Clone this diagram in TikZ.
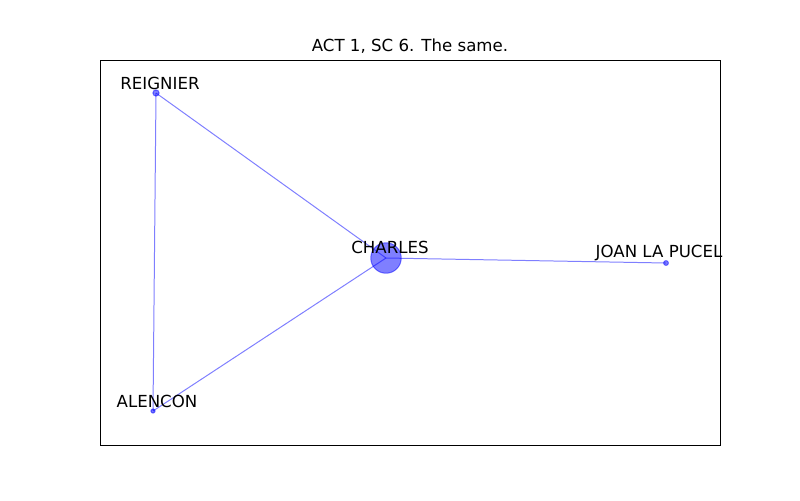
\documentclass[tikz,border=0pt]{standalone}
\usepackage{fontspec}
\setmainfont{DejaVu Sans}
\usetikzlibrary{backgrounds}
\definecolor{netblue}{rgb}{0,0,1}

\tikzset{
    person/.style={circle, fill=netblue, draw=netblue, fill opacity=0.5, draw opacity=0.5, line width=0.72pt, inner sep=0pt},
    link/.style={draw=netblue, draw opacity=0.5, line width=0.72pt},
    castname/.style={inner sep=0pt, text=black}
}

\begin{document}
\begin{tikzpicture}[x=0.01in, y=-0.01in, font=\fontsize{12}{14}\selectfont]
    \useasboundingbox (0,0) rectangle (800,500);
    \node [castname] (title) at (410,46) {ACT 1, SC 6. The same.};
    % characters
    \node [person, minimum size=22pt] (charles) at (386,258) {};
    \node [person, minimum size=4.5pt] (reignier) at (156,93) {};
    \node [person, minimum size=3pt] (alencon) at (153,411) {};
    \node [person, minimum size=3.5pt] (joan) at (666,263) {};
    \begin{pgfonlayer}{background}
        \draw [link] (reignier.center) -- (charles.center);
        \draw [link] (reignier.center) -- (alencon.center);
        \draw [link] (alencon.center) -- (charles.center);
        \draw [link] (charles.center) -- (joan.center);
    \end{pgfonlayer}
    % labels
    \node [castname] (lcharles) at (390,247) {CHARLES};
    \node [castname] (lreignier) at (160,83) {REIGNIER};
    \node [castname] (lalencon) at (157,401) {ALENCON};
    \node [castname] (ljoan) at (659,253) {JOAN LA PUCEL};
    \draw [line width=0.6pt] (100,60) rectangle (720,445);
\end{tikzpicture}
\end{document}
